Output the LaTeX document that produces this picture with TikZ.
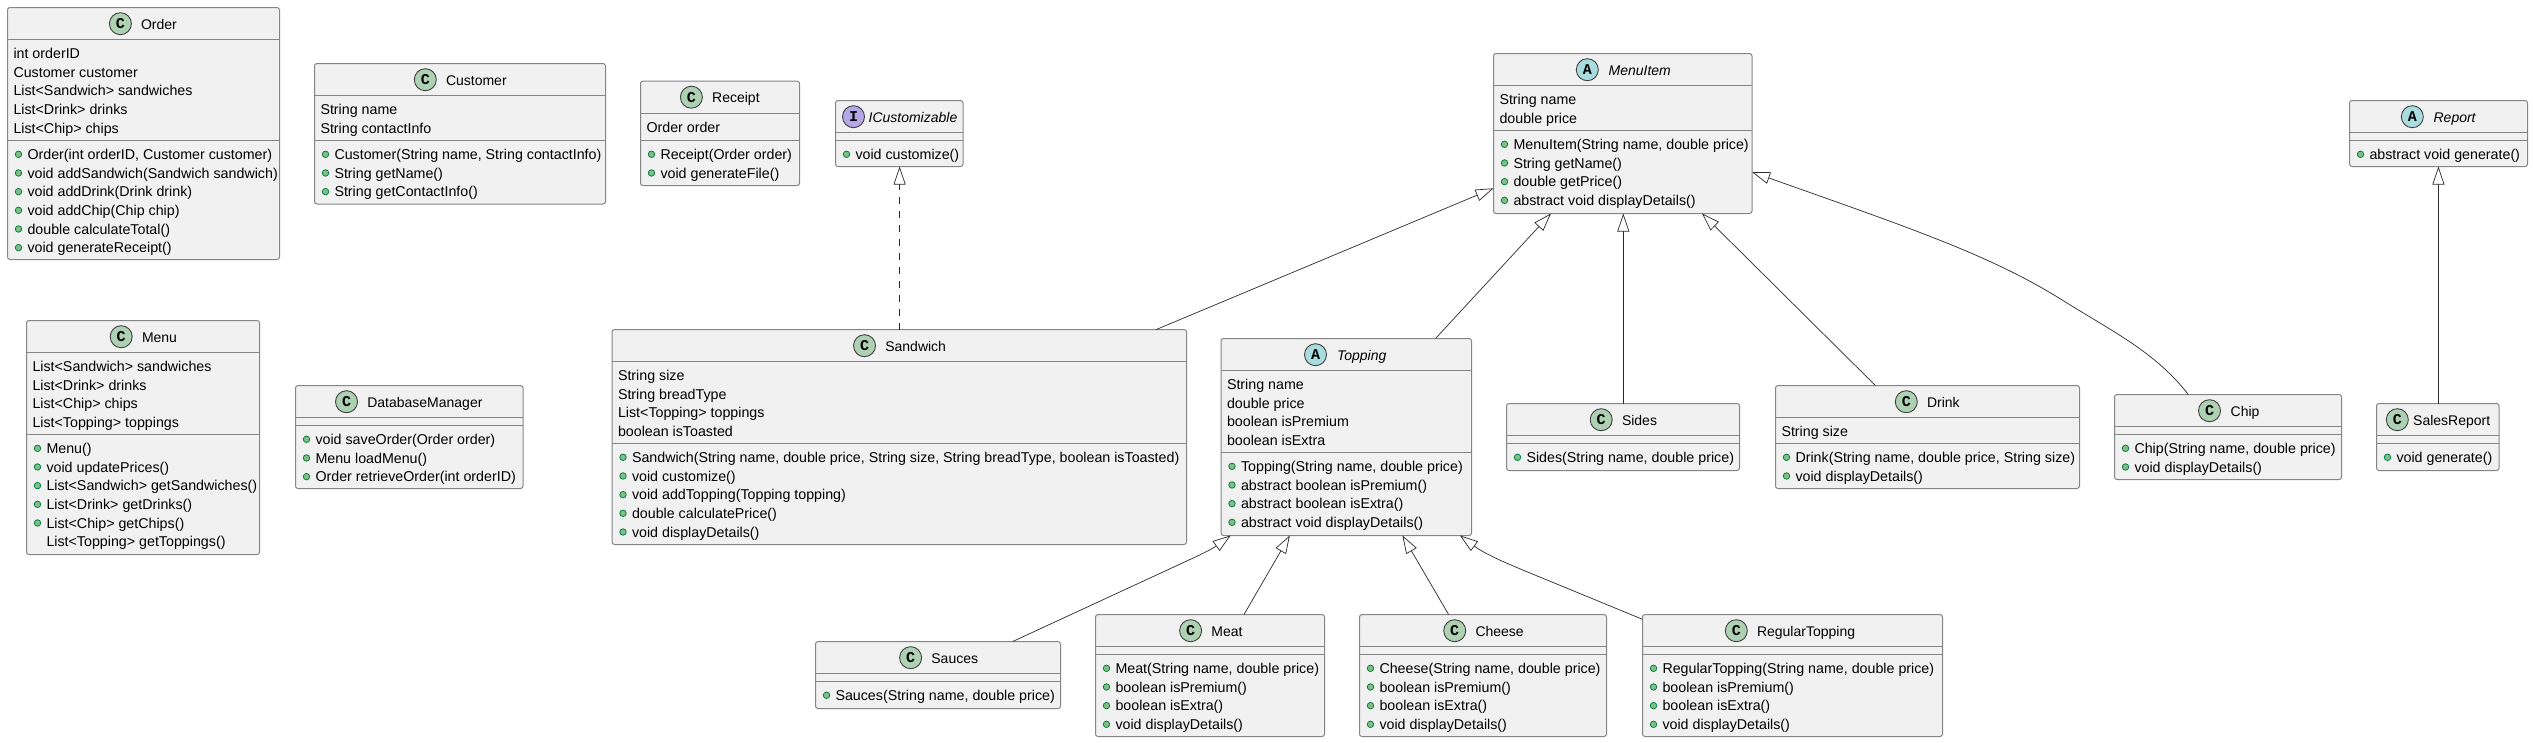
\documentclass[tikz,border=0pt]{standalone}
\usepackage{fontspec}
\setmainfont{Liberation Sans}
\setmonofont{Liberation Mono}
\usetikzlibrary{arrows.meta}
\definecolor{boxfill}{HTML}{F1F1F1}
\definecolor{boxline}{HTML}{858585}
\definecolor{wire}{HTML}{2A2A2A}
\definecolor{classicon}{HTML}{ADD1B2}
\definecolor{abstracticon}{HTML}{A9DCDF}
\definecolor{interfaceicon}{HTML}{B4A7E5}
\definecolor{markfill}{HTML}{84BE84}
\definecolor{markline}{HTML}{038048}
\tikzset{
  classbody/.style={draw=boxline,fill=boxfill,line width=1pt,rounded corners=2.5pt,inner sep=0pt,outer sep=0pt},
  divider/.style={draw=boxline,line width=1pt},
  icon/.style={circle,draw=black!75,line width=0.9pt,minimum size=22pt,inner sep=0pt,font=\fontsize{15}{15}\selectfont\ttfamily\bfseries},
  txt/.style={anchor=base west,inner sep=0pt,outer sep=0pt,font=\fontsize{14.25}{16}\selectfont,text=black},
  ttl/.style={txt,font=\fontsize{14}{16}\selectfont},
  ittl/.style={txt,font=\fontsize{14}{16}\selectfont\itshape},
  pubmark/.style={circle,draw=markline,fill=markfill,line width=0.8pt,minimum size=6.5pt,inner sep=0pt},
  wireline/.style={draw=wire,line width=0.7pt},
  generalizes/.style={wireline,-{Triangle[length=18pt,width=12pt,fill=white]}},
  realizes/.style={generalizes,dash pattern=on 7pt off 7pt},
}
% name, x1, y1, x2, y2, divider 1, divider 2
\newcommand\classbox[7]{%
  \pgfmathsetmacro\bw{#4-#2}\pgfmathsetmacro\bh{#5-#3}%
  \pgfmathsetmacro\bx{(#2+#4)/2}\pgfmathsetmacro\by{(#3+#5)/2}%
  \node[classbody,minimum width=\bw pt,minimum height=\bh pt] (#1) at (\bx,\by) {};
  \draw[divider] (#1.west |- 0,#6) -- (#1.east |- 0,#6);
  \draw[divider] (#1.west |- 0,#7) -- (#1.east |- 0,#7);
}
% name, top, icon colour, letter, icon x, title x, title style, title
\newcommand\classhead[8]{%
  \pgfmathsetmacro\iy{#2+16.2}\pgfmathsetmacro\ty{#2+21.5}%
  \node[icon,fill=#3] (#1-icon) at (#5,\iy) {#4};
  \node[#7] (#1-title) at (#6,\ty) {#8};
}
% name, divider, rows
\newcommand\attrs[3]{%
  \foreach \t [count=\i from 0] in {#3}{%
    \pgfmathsetmacro\yy{#2+19+18.67*\i}%
    \node[txt] (#1-a\i) at ([xshift=6pt]#1.west |- 0,\yy) {\t};
  }%
}
\newcommand\methods[3]{%
  \foreach \t [count=\i from 0] in {#3}{%
    \pgfmathsetmacro\yy{#2+19+18.67*\i}\pgfmathsetmacro\ym{#2+13.8+18.67*\i}%
    \node[pubmark] (#1-k\i) at ([xshift=11pt]#1.west |- 0,\ym) {};
    \node[txt] (#1-m\i) at ([xshift=20pt]#1.west |- 0,\yy) {\t};
  }%
}
\begin{document}
\begin{tikzpicture}[x=1pt,y=-1pt]
\useasboundingbox[fill=white] (0,0) rectangle (2533,742);

\classbox{order}{7.5}{7.5}{279.5}{259.5}{39.5}{140.5}
\classhead{order}{7.5}{classicon}{C}{120.4}{141}{ttl}{Order}
\attrs{order}{39.5}{int orderID,Customer customer,List<Sandwich> sandwiches,List<Drink> drinks,List<Chip> chips}
\methods{order}{140.5}{{Order(int orderID, Customer customer)},void addSandwich(Sandwich sandwich),void addDrink(Drink drink),void addChip(Chip chip),double calculateTotal(),void generateReceipt()}

\classbox{customer}{314.5}{63.5}{605.5}{204}{95.5}{140.5}
\classhead{customer}{63.5}{classicon}{C}{425.3}{446}{ttl}{Customer}
\attrs{customer}{95.5}{String name,String contactInfo}
\methods{customer}{140.5}{{Customer(String name, String contactInfo)},String getName(),String getContactInfo()}

\classbox{menu}{26.5}{320.5}{259.5}{554.5}{352.5}{434.5}
\classhead{menu}{320.5}{classicon}{C}{121.2}{142}{ttl}{Menu}
\attrs{menu}{352.5}{List<Sandwich> sandwiches,List<Drink> drinks,List<Chip> chips,List<Topping> toppings}
\methods{menu}{434.5}{Menu(),void updatePrices(),List<Sandwich> getSandwiches(),List<Drink> getDrinks(),List<Chip> getChips()}
\node[txt] (menu-m5) at ([xshift=20pt]menu.west |- 0,546.85) {List<Topping> getToppings()};

\classbox{database}{295.5}{385.5}{523}{488.5}{417.5}{425.5}
\classhead{database}{385.5}{classicon}{C}{346.5}{367.3}{ttl}{DatabaseManager}
\methods{database}{425.5}{void saveOrder(Order order),Menu loadMenu(),Order retrieveOrder(int orderID)}

\classbox{receipt}{640.5}{81}{799.5}{185.5}{113.5}{140.5}
\classhead{receipt}{81}{classicon}{C}{691.4}{712.2}{ttl}{Receipt}
\attrs{receipt}{113.5}{Order order}
\methods{receipt}{140.5}{Receipt(Order order),void generateFile()}

\classbox{icustom}{835.5}{100.5}{963}{166.5}{132.5}{140.5}
\classhead{icustom}{100.5}{interfaceicon}{I}{853.5}{868.6}{ittl}{ICustomizable}
\methods{icustom}{140.5}{void customize()}

\classbox{sandwich}{612}{329.5}{1186.5}{544.5}{361.5}{443.5}
\classhead{sandwich}{329.5}{classicon}{C}{864.5}{885.3}{ttl}{Sandwich}
\attrs{sandwich}{361.5}{String size,String breadType,List<Topping> toppings,boolean isToasted}
\methods{sandwich}{443.5}{{Sandwich(String name, double price, String size, String breadType, boolean isToasted)},void customize(),void addTopping(Topping topping),double calculatePrice(),void displayDetails()}

\classbox{menuitem}{1493.5}{53.5}{1752}{213.5}{85.5}{130.5}
\classhead{menuitem}{53.5}{abstracticon}{A}{1587.3}{1608.6}{ittl}{MenuItem}
\attrs{menuitem}{85.5}{String name,double price}
\methods{menuitem}{130.5}{{MenuItem(String name, double price)},String getName(),double getPrice(),abstract void displayDetails()}

\classbox{report}{2349.5}{100.5}{2527.5}{166.5}{132.5}{140.5}
\classhead{report}{100.5}{abstracticon}{A}{2412.3}{2433.6}{ittl}{Report}
\methods{report}{140.5}{abstract void generate()}

\classbox{topping}{1221}{338.5}{1471.5}{535.5}{370.5}{452.5}
\classhead{topping}{338.5}{abstracticon}{A}{1315.5}{1337}{ittl}{Topping}
\attrs{topping}{370.5}{String name,double price,boolean isPremium,boolean isExtra}
\methods{topping}{452.5}{{Topping(String name, double price)},abstract boolean isPremium(),abstract boolean isExtra(),abstract void displayDetails()}

\classbox{sides}{1506.5}{403.5}{1739.5}{470.5}{435.5}{443.5}
\classhead{sides}{403.5}{classicon}{C}{1601.2}{1622}{ttl}{Sides}
\methods{sides}{443.5}{{Sides(String name, double price)}}

\classbox{drink}{1775.5}{385.5}{2079.5}{488.5}{417.5}{443.5}
\classhead{drink}{385.5}{classicon}{C}{1906.3}{1927}{ttl}{Drink}
\attrs{drink}{417.5}{String size}
\methods{drink}{443.5}{{Drink(String name, double price, String size)},void displayDetails()}

\classbox{chip}{2114.5}{394.5}{2341.5}{479.5}{426.5}{434.5}
\classhead{chip}{394.5}{classicon}{C}{2209.5}{2230.7}{ttl}{Chip}
\methods{chip}{434.5}{{Chip(String name, double price)},void displayDetails()}

\classbox{salesreport}{2376.5}{403.5}{2499}{470.5}{435.5}{443.5}
\classhead{salesreport}{403.5}{classicon}{C}{2397.3}{2413.2}{ttl}{SalesReport}
\methods{salesreport}{443.5}{void generate()}

\classbox{sauces}{815.5}{641.5}{1060.5}{708.5}{673.5}{681.5}
\classhead{sauces}{641.5}{classicon}{C}{910.6}{931.4}{ttl}{Sauces}
\methods{sauces}{681.5}{{Sauces(String name, double price)}}

\classbox{meat}{1095.5}{614.5}{1324.5}{736.5}{646.5}{654.5}
\classhead{meat}{614.5}{classicon}{C}{1190.6}{1211.4}{ttl}{Meat}
\methods{meat}{654.5}{{Meat(String name, double price)},boolean isPremium(),boolean isExtra(),void displayDetails()}

\classbox{cheese}{1359.5}{614.5}{1606.5}{736.5}{646.5}{654.5}
\classhead{cheese}{614.5}{classicon}{C}{1454.7}{1475.5}{ttl}{Cheese}
\methods{cheese}{654.5}{{Cheese(String name, double price)},boolean isPremium(),boolean isExtra(),void displayDetails()}

\classbox{regular}{1642.5}{614.5}{1942.5}{736.5}{646.5}{654.5}
\classhead{regular}{614.5}{classicon}{C}{1736.3}{1757}{ttl}{RegularTopping}
\methods{regular}{654.5}{{RegularTopping(String name, double price)},boolean isPremium(),boolean isExtra(),void displayDetails()}

% connectors
\draw[realizes] (899.6,0 |- sandwich.north) -- (899.6,0 |- icustom.south);
\draw[generalizes] (1156.3,0 |- sandwich.north) -- (menuitem.west |- 0,188.3);
\draw[generalizes] (1435.5,0 |- topping.north) -- (1551,0 |- menuitem.south);
\draw[generalizes] (1623.3,0 |- sides.north) -- (1623.3,0 |- menuitem.south);
\draw[generalizes] (1875.4,0 |- drink.north) -- (1702,0 |- menuitem.south);
\draw[generalizes] (2188.3,0 |- chip.north) .. controls (2155,352) and (2115,333) .. (2061,299.3)
   .. controls (1990,255) and (1910,228) .. (menuitem.east |- 0,172);
\draw[generalizes] (2438.4,0 |- salesreport.north) -- (2438.4,0 |- report.south);
\draw[generalizes] (1012.7,0 |- sauces.north) -- (1190,559.5) .. controls (1205,552.5) and (1212,549) .. (1230.6,0 |- topping.south);
\draw[generalizes] (1244,0 |- meat.north) -- (1289.8,0 |- topping.south);
\draw[generalizes] (1448.6,0 |- cheese.north) -- (1402.4,0 |- topping.south);
\draw[generalizes] (regular.west |- 0,619.3) -- (1530,573) .. controls (1505,562.7) and (1485,554) .. (1460,0 |- topping.south);
\end{tikzpicture}
\end{document}
